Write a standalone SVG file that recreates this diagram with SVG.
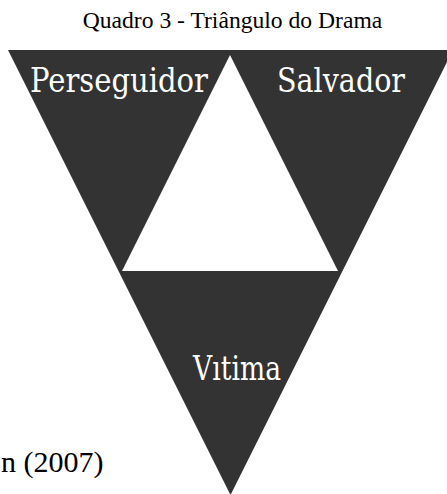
<svg xmlns="http://www.w3.org/2000/svg" width="447" height="494" viewBox="0 0 447 494">
<style>
.title{font-family:"Liberation Serif","Times New Roman",serif;font-size:23.6px;fill:#000}
.cap{font-family:"Liberation Serif","Times New Roman",serif;font-size:30px;fill:#000}
.lbl{font-family:"DejaVu Serif","Liberation Serif",serif;font-size:33px;fill:#fff}
</style>
<rect width="447" height="494" fill="#fff"/>
<text class="title" x="232.5" y="28" text-anchor="middle">Quadro 3 - Triângulo do Drama</text>
<g id="drama-triangle">
<polygon points="8,50 453,50 230.5,495" fill="#333333"/>
<polygon points="230,55 338,271 122,271" fill="#ffffff"/>
</g>
<g id="perseguidor"><text class="lbl" x="30" y="92" textLength="178" lengthAdjust="spacingAndGlyphs">Perseguidor</text></g>
<g id="salvador"><text class="lbl" x="277" y="92" textLength="128" lengthAdjust="spacingAndGlyphs">Salvador</text></g>
<g id="vitima"><text class="lbl" x="193" y="380" textLength="88" lengthAdjust="spacingAndGlyphs">Vıtima</text></g>
<g id="connectors"></g>
<text class="cap" x="1" y="472">n (2007)</text>
</svg>
